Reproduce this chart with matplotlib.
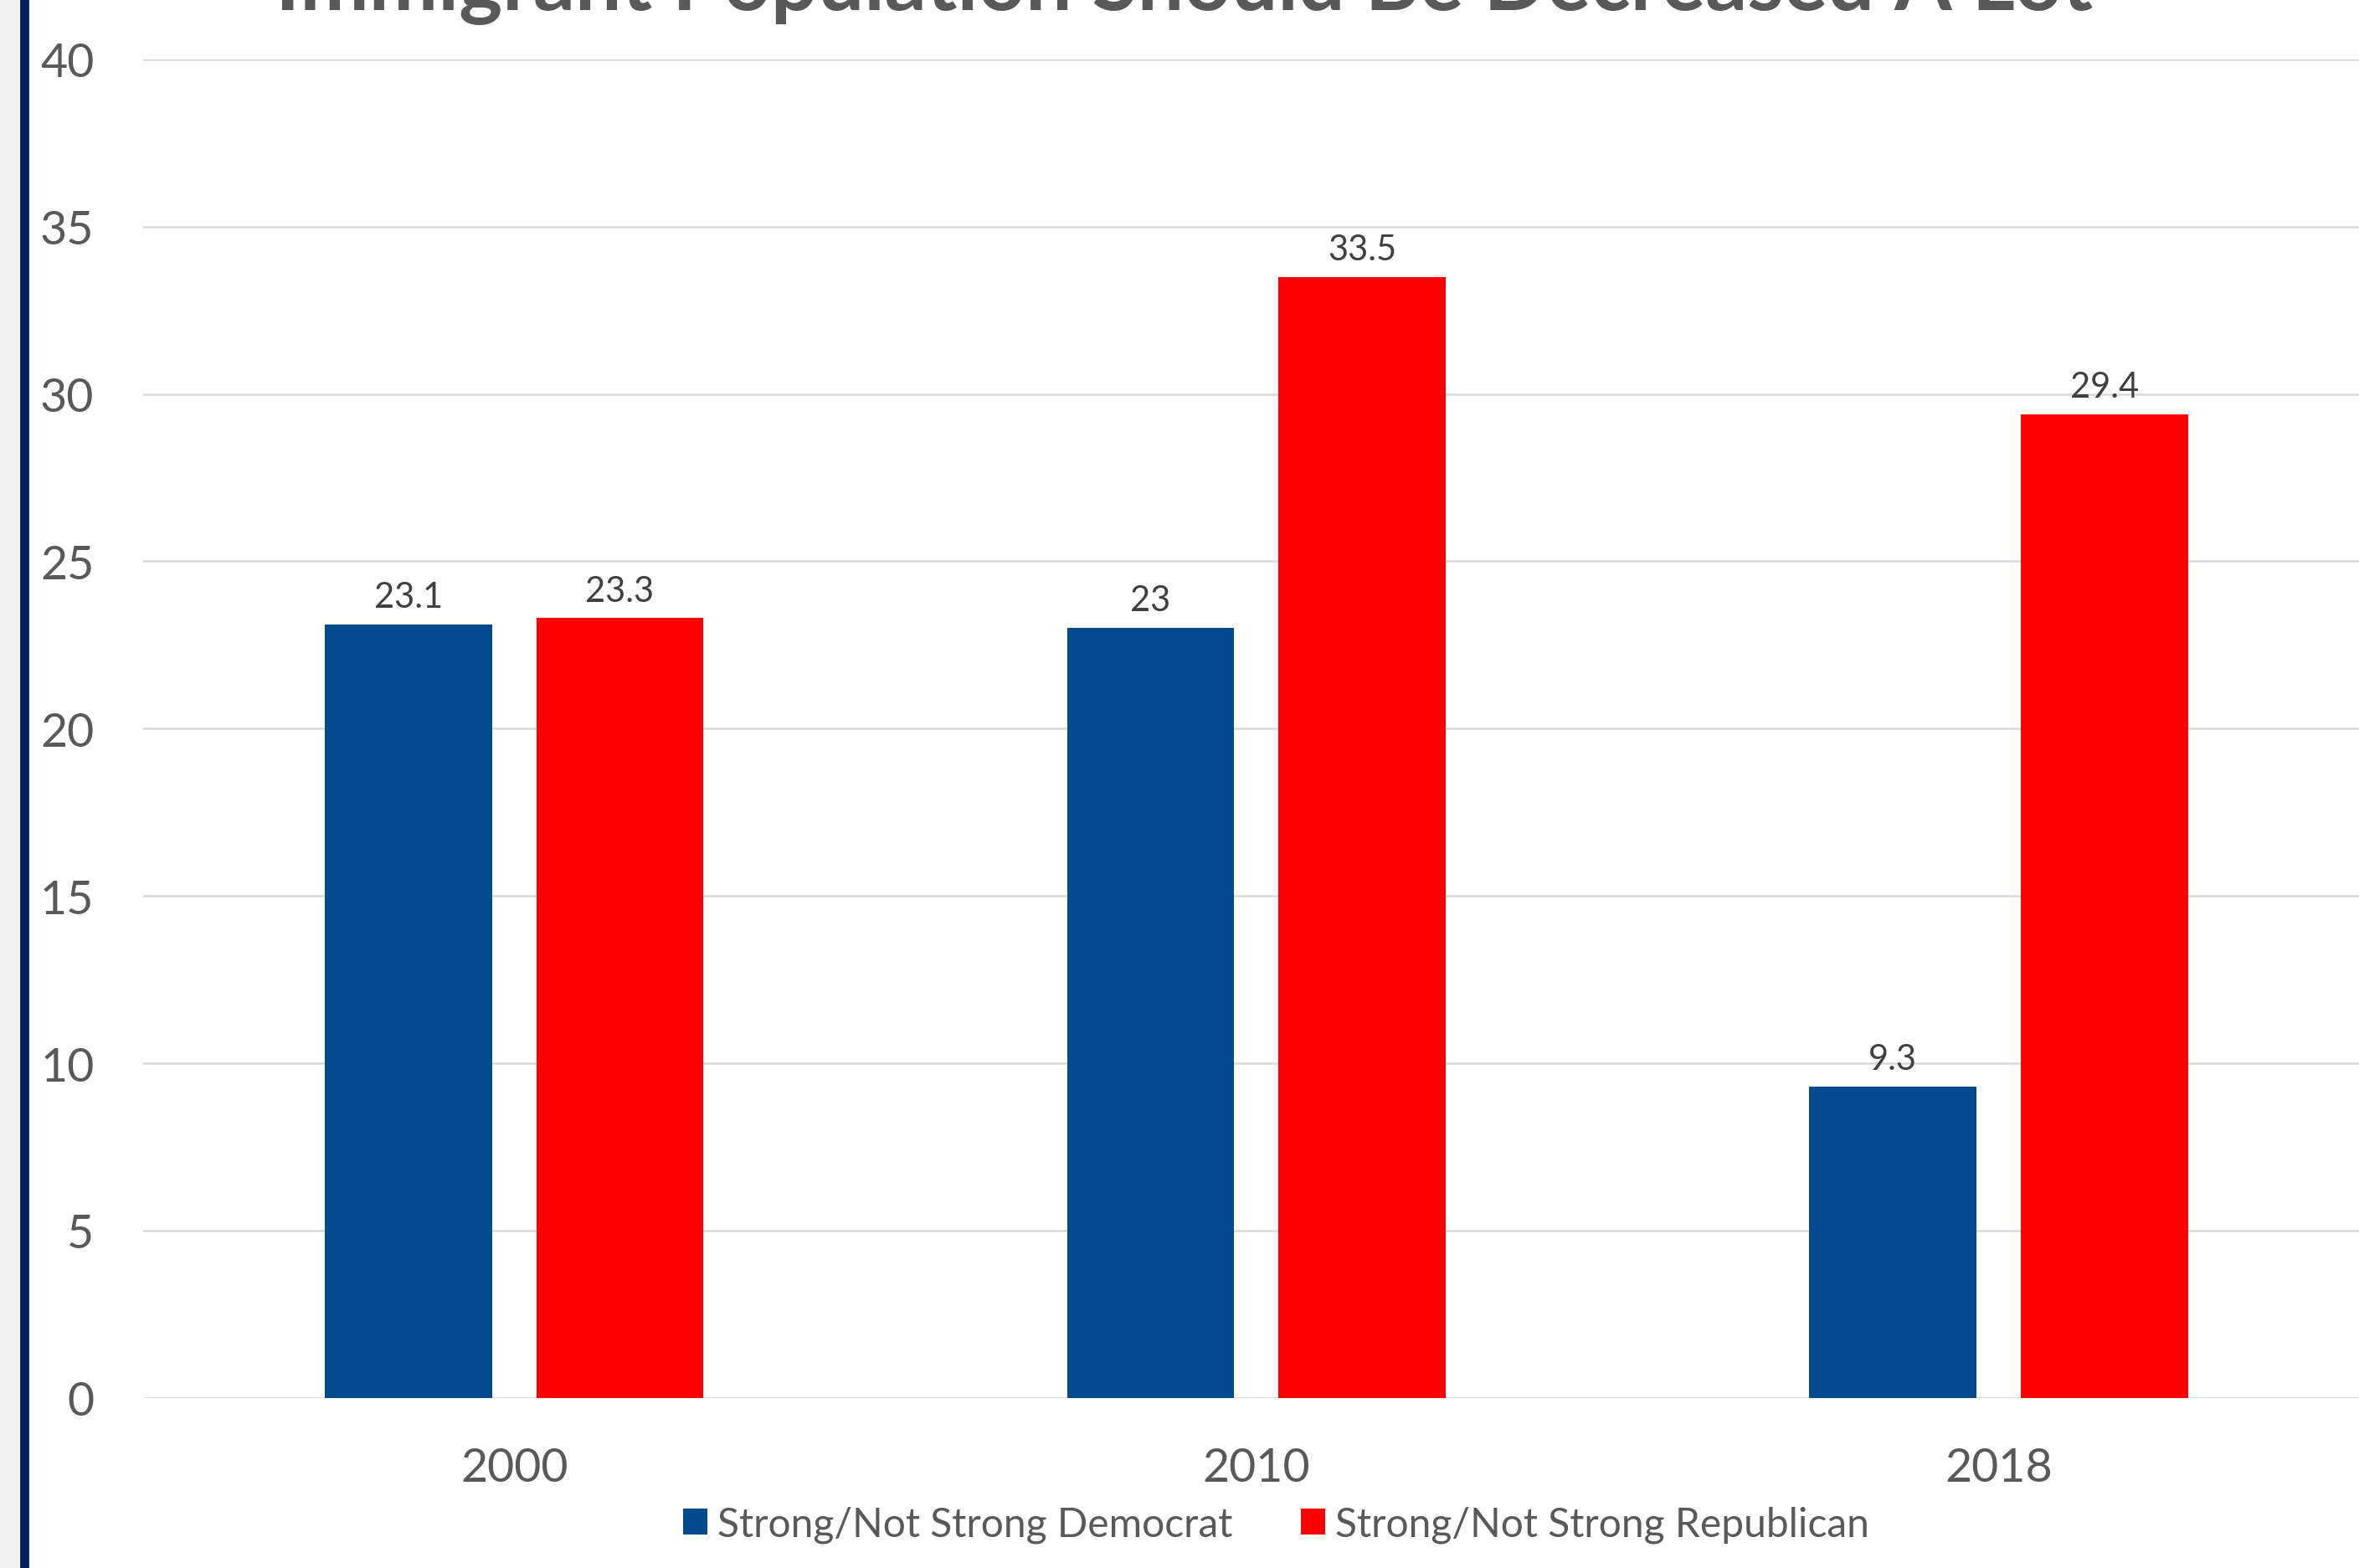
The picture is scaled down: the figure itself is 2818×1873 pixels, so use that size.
import numpy as np
import matplotlib.pyplot as plt
from matplotlib.patches import Rectangle

years = ['2000', '2010', '2018']
democrat = [23.1, 23.0, 9.3]
republican = [23.3, 33.5, 29.4]
series_names = ['Strong/Not Strong Democrat', 'Strong/Not Strong Republican']
yticks = [0, 5, 10, 15, 20, 25, 30, 35, 40]

blue = '#044A8F'
red = '#FF0000'
grey_txt = '#595959'

plt.rcParams['font.family'] = ['Lato', 'DejaVu Sans']

fig = plt.figure(figsize=(14.09, 9.37), dpi=200)
ax = fig.add_axes([0.0606, 0.1084, 0.944, 0.8533])

# left edge decoration (grey strip + navy rule)
fig.patches.append(Rectangle((0, 0), 25/2818, 1, transform=fig.transFigure,
                             color='#F2F2F2', zorder=0))
fig.patches.append(Rectangle((25/2818, 0), 8/2818, 1, transform=fig.transFigure,
                             color='#002060', zorder=0))

x = np.arange(len(years))
w = 0.225
off = 0.1425
b1 = ax.bar(x - off, democrat, w, color=blue, label=series_names[0], zorder=3)
b2 = ax.bar(x + off, republican, w, color=red, label=series_names[1], zorder=3)

for bars, vals in ((b1, democrat), (b2, republican)):
    for r, v in zip(bars, vals):
        ax.annotate(f'{v:g}', (r.get_x() + r.get_width()/2, v),
                    xytext=(0, 5), textcoords='offset points',
                    ha='center', va='bottom', fontsize=15, color='#404040')

ax.set_xlim(-0.5, 2.5)
ax.set_ylim(0, 40)
ax.set_yticks(yticks)
ax.set_xticks(x)
ax.set_xticklabels(years)
ax.tick_params(axis='both', length=0, labelsize=20, colors=grey_txt)
ax.tick_params(axis='y', pad=21)
ax.tick_params(axis='x', pad=21)
ax.yaxis.grid(True, color='#D9D9D9', linewidth=0.9, zorder=0)
for s in ax.spines.values():
    s.set_visible(False)

fig.text(0.502, 1 - 12/1874, 'Immigrant Population Should Be Decreased A Lot',
         ha='center', va='baseline', fontsize=35.5, fontweight='bold', color=grey_txt)

fig.legend(loc='center', bbox_to_anchor=(0.541, 0.028), ncol=2, frameon=False,
           fontsize=17.3, labelcolor=grey_txt, handlelength=0.6, handleheight=0.6,
           handletextpad=0.25, columnspacing=1.7)

fig.savefig('out.png', dpi=200)
